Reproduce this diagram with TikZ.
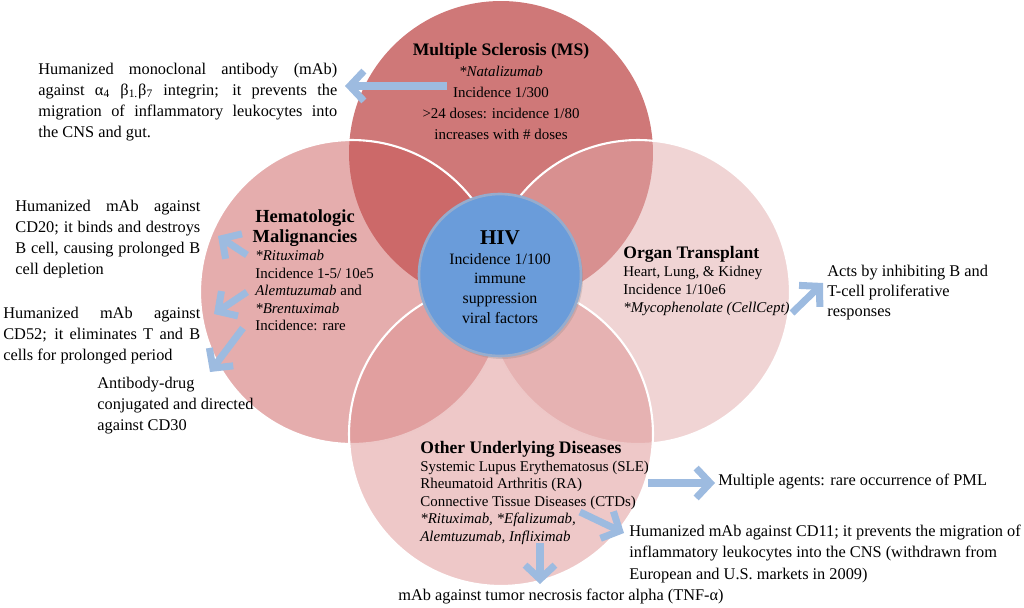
\documentclass[tikz,border=0pt]{standalone}
\usepackage{fontspec}
\setmainfont{Liberation Serif}
\usetikzlibrary{arrows.meta,shadows}

\definecolor{msred}{RGB}{207,120,120}
\definecolor{hemred}{RGB}{203,92,92}
\definecolor{orgpink}{RGB}{225,169,169}
\definecolor{othpink}{RGB}{221,145,145}
\definecolor{hivblue}{RGB}{106,156,218}
\definecolor{hivrim}{RGB}{150,172,205}
\definecolor{arrowblue}{RGB}{157,187,224}
\newcommand\venntitle{\fontsize{10}{12}\selectfont\bfseries}

\begin{document}
\begin{tikzpicture}[x=0.02cm, y=-0.02cm,
    disc/.style={circle, minimum size=6.08cm, inner sep=0pt, draw=white, line width=1.2pt, fill opacity=0.5},
    body/.style={inner sep=0pt, align=left, font=\fontsize{8.5}{10}\selectfont},
    note/.style={inner sep=0pt, align=justify, font=\fontsize{9.3}{12}\selectfont},
    pointer/.style={draw=arrowblue, line width=4pt, -{Straight Barb[length=8pt, width=17pt]}}]
    \useasboundingbox (0,0) rectangle (1024,608);

    % Venn circles
    \node[circle, minimum size=6.08cm, inner sep=0pt, fill=msred] (ms) at (501,153) {};
    \node[disc, fill=hemred] (hem) at (352,292) {};
    \node[disc, fill=orgpink] (org) at (638,292) {};
    \node[disc, fill=othpink] (oth) at (501,434) {};
    \node[circle, minimum size=3.24cm, inner sep=0pt, fill=hivblue, draw=hivrim, line width=1.5pt,
          drop shadow={opacity=0.25, shadow xshift=0.4mm, shadow yshift=-0.6mm}] (hiv) at (500,275) {};

    % Texts in circles
    \node[anchor=north, inner sep=0pt, align=center, font=\fontsize{8.5}{12}\selectfont] (mstext) at (501,43)
        {{\venntitle Multiple Sclerosis (MS)}\\
         \textit{*Natalizumab}\\ Incidence 1/300\\ >24 doses: incidence 1/80\\ increases with \# doses};
    \node[inner sep=0pt, align=center, font=\fontsize{10.5}{11.4}\selectfont\bfseries] (hemtitle) at (305,228)
        {Hematologic\\ Malignancies};
    \node[body, anchor=north west] (hembody) at (255,250)
        {\textit{*Rituximab}\\ Incidence 1-5/ 10e5\\ \textit{Alemtuzumab} and\\ \textit{*Brentuximab}\\ Incidence: rare};
    \node[inner sep=0pt, align=center, font=\fontsize{9}{11.2}\selectfont] (hivtext) at (500,277)
        {{\fontsize{12}{12}\selectfont\bfseries HIV}\\ Incidence 1/100\\ immune\\ suppression\\ viral factors};
    \node[body, anchor=north west, font=\fontsize{8.5}{10.3}\selectfont] (orgtext) at (623,246)
        {{\venntitle Organ Transplant}\\ Heart, Lung, \& Kidney\\ Incidence 1/10e6\\ \textit{*Mycophenolate (CellCept)}};
    \node[body, anchor=north west] (othtext) at (420,441)
        {{\venntitle Other Underlying Diseases}\\ Systemic Lupus Erythematosus (SLE)\\ Rheumatoid Arthritis (RA)\\
         Connective Tissue Diseases (CTDs)\\ \textit{*Rituximab, *Efalizumab,}\\ \textit{Alemtuzumab, Infliximab}};

    % Notes
    \node[note, anchor=north west, text width=5.98cm] (msnote) at (38,63)
        {Humanized monoclonal antibody (mAb)\linebreak against α\textsubscript{4} β\textsubscript{1.}β\textsubscript{7} integrin; it prevents the\linebreak migration of inflammatory leukocytes into\linebreak the CNS and gut.};
    \node[note, anchor=north west, text width=3.7cm] (cdtwenty) at (15,200)
        {Humanized mAb against\linebreak CD20; it binds and destroys\linebreak B cell, causing prolonged B\linebreak cell depletion};
    \node[note, anchor=north west, text width=3.94cm] (cdfiftytwo) at (3,307)
        {Humanized mAb against\linebreak CD52; it eliminates T and B\linebreak cells for prolonged period};
    \node[note, anchor=north west, align=left] (cdthirty) at (97,377)
        {Antibody-drug\\ conjugated and directed\\ against CD30};
    \node[note, anchor=north west, align=left, font=\fontsize{9.3}{11.2}\selectfont] (tcell) at (827,265)
        {Acts by inhibiting B and\\ T-cell proliferative\\ responses};
    \node[note, anchor=west, align=left] (pml) at (718,482) {Multiple agents: rare occurrence of PML};
    \node[note, anchor=north west, align=left] (cdeleven) at (629,525)
        {Humanized mAb against CD11; it prevents the migration of\\ inflammatory leukocytes into the CNS (withdrawn from\\ European and U.S. markets in 2009)};
    \node[note, anchor=west, align=left] (tnf) at (398,597) {mAb against tumor necrosis factor alpha (TNF-α)};

    % Arrows
    \coordinate (msfrom) at (447,86);   \coordinate (msto) at (345,86);
    \coordinate (ritfrom) at (247,255); \coordinate (ritto) at (218,236);
    \coordinate (alefrom) at (247,292); \coordinate (aleto) at (214,314);
    \coordinate (brefrom) at (243,328); \coordinate (breto) at (210,372);
    \coordinate (myfrom) at (792,313);  \coordinate (myto) at (823,283);
    \coordinate (pmlfrom) at (648,483); \coordinate (pmlto) at (715,483);
    \coordinate (efafrom) at (580,512); \coordinate (efato) at (624,533);
    \coordinate (inffrom) at (540,543); \coordinate (infto) at (540,584);
    \foreach \s/\t in {msfrom/msto, ritfrom/ritto, alefrom/aleto, brefrom/breto,
                       myfrom/myto, pmlfrom/pmlto, efafrom/efato, inffrom/infto}
        \draw[pointer] (\s) -- (\t);
\end{tikzpicture}
\end{document}
